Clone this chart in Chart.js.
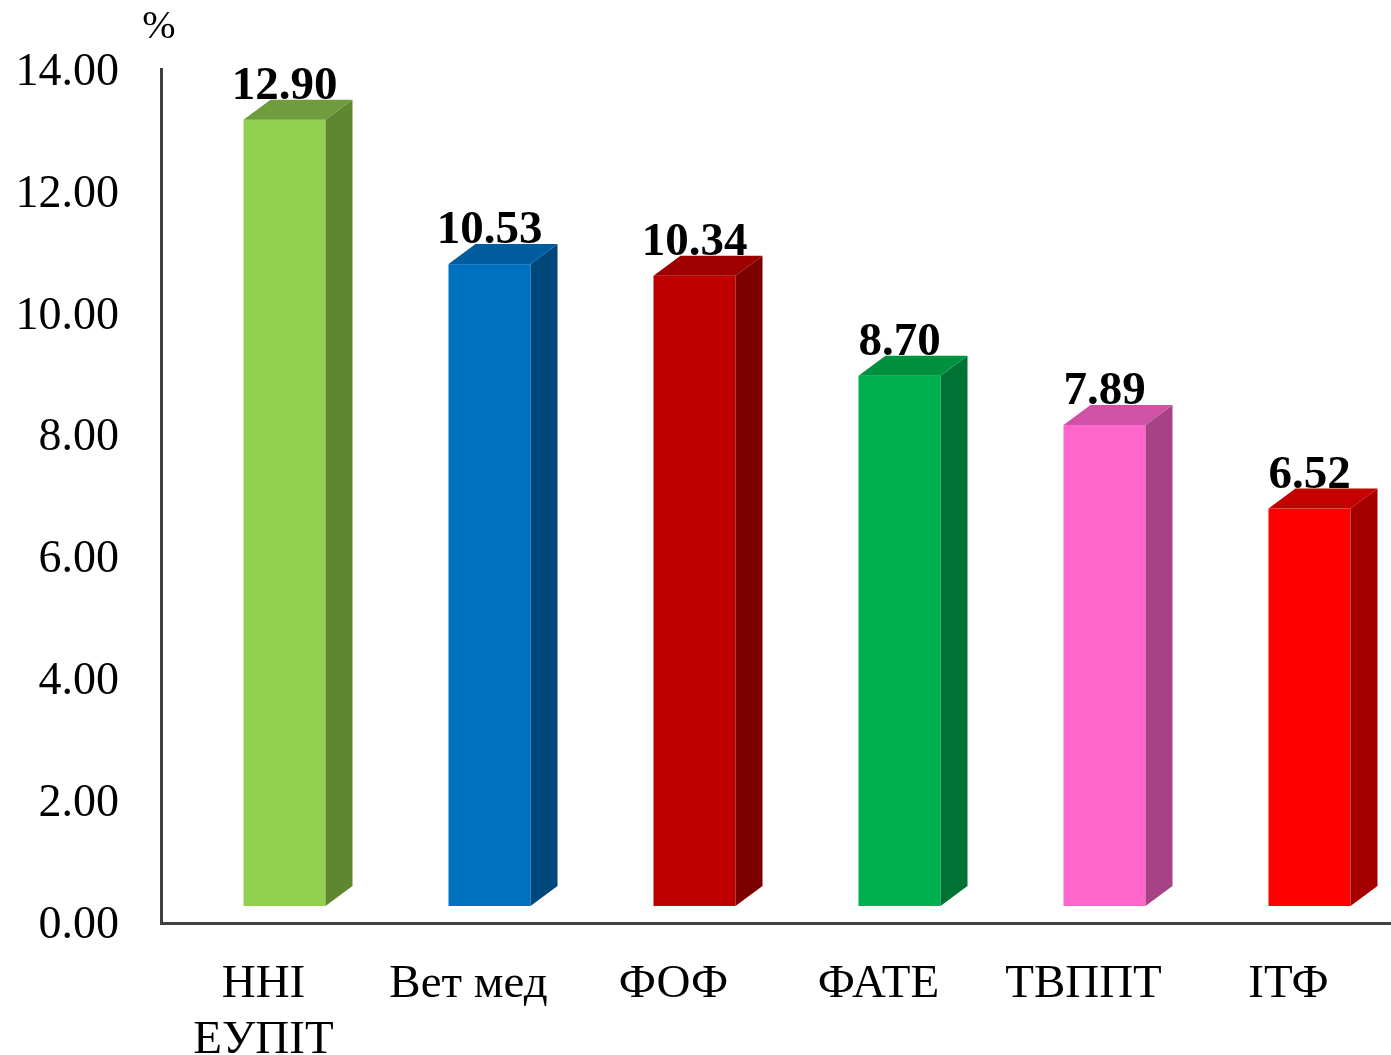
<!DOCTYPE html>
<html>
<head>
<meta charset="utf-8">
<script src="https://cdn.jsdelivr.net/npm/chart.js@4.4.1/dist/chart.umd.min.js"></script>
<style>
  html, body { margin: 0; padding: 0; background: #fff; }
  #wrap { width: 1391px; height: 1055px; position: relative; }
</style>
</head>
<body>
<div id="wrap"><canvas id="chart"></canvas></div>
<script>
const categories = [['ННІ', 'ЕУПІТ'], 'Вет мед', 'ФОФ', 'ФАТЕ', 'ТВППТ', 'ІТФ'];
const values = [12.90, 10.53, 10.34, 8.70, 7.89, 6.52];
const frontColors = ['#92D050', '#0070C0', '#C00000', '#00B050', '#FF66CC', '#FF0000'];
const sideColors = ['#5F8732', '#00477C', '#7C0000', '#007334', '#A64285', '#A50000'];
const topColors = ['#6F9C3C', '#005C9E', '#9E0000', '#00913F', '#CF52A6', '#C40000'];

const FONT = '"Liberation Serif", "Times New Roman", serif';
// 3D look: front face pushed right/up, depth of the side and top faces
const SHIFT_X = 21, SHIFT_Y = -17, DEPTH_X = 27, DEPTH_Y = -20;

const bars3d = {
    id: 'bars3d',
    afterDatasetsDraw(chart) {
        const ctx = chart.ctx;
        const meta = chart.getDatasetMeta(0);
        meta.data.forEach((bar, i) => {
            const p = bar.getProps(['x', 'y', 'base', 'width'], true);
            const left = p.x - p.width / 2 + SHIFT_X;
            const right = left + p.width;
            const top = p.y + SHIFT_Y;
            const bottom = p.base + SHIFT_Y;
            ctx.save();
            ctx.fillStyle = frontColors[i];
            ctx.fillRect(left, top, p.width, bottom - top);
            // side
            ctx.fillStyle = sideColors[i];
            ctx.beginPath();
            ctx.moveTo(right, top);
            ctx.lineTo(right + DEPTH_X, top + DEPTH_Y);
            ctx.lineTo(right + DEPTH_X, bottom + DEPTH_Y);
            ctx.lineTo(right, bottom);
            ctx.closePath();
            ctx.fill();
            // top
            ctx.fillStyle = topColors[i];
            ctx.beginPath();
            ctx.moveTo(left, top);
            ctx.lineTo(left + DEPTH_X, top + DEPTH_Y);
            ctx.lineTo(right + DEPTH_X, top + DEPTH_Y);
            ctx.lineTo(right, top);
            ctx.closePath();
            ctx.fill();
            // value label
            ctx.fillStyle = '#000';
            ctx.font = 'bold 47px ' + FONT;
            ctx.textAlign = 'center';
            ctx.textBaseline = 'alphabetic';
            ctx.fillText(values[i].toFixed(2), left + p.width / 2, top + DEPTH_Y - 1);
            ctx.restore();
        });
        // unit label
        ctx.save();
        ctx.fillStyle = '#000';
        ctx.font = '40px ' + FONT;
        ctx.textAlign = 'center';
        ctx.textBaseline = 'middle';
        ctx.fillText('%', 159, 27);
        ctx.restore();
    }
};

new Chart(document.getElementById('chart'), {
    type: 'bar',
    data: {
        labels: categories,
        datasets: [{
            data: values,
            backgroundColor: 'rgba(0,0,0,0)',
            borderWidth: 0,
            barPercentage: 0.4,
            categoryPercentage: 1
        }]
    },
    options: {
        responsive: true,
        maintainAspectRatio: false,
        animation: false,
        layout: { padding: { top: 63, right: 0, left: 0, bottom: 0 } },
        plugins: {
            legend: { display: false },
            tooltip: { enabled: false }
        },
        scales: {
            x: {
                grid: { display: false, drawTicks: false },
                border: { display: true, color: '#404040', width: 3 },
                ticks: {
                    color: '#000',
                    font: { family: FONT, size: 47, lineHeight: 1.2 },
                    padding: 33,
                    maxRotation: 0,
                    autoSkip: false
                },
                afterFit(scale) { scale.height = 132; }
            },
            y: {
                min: 0,
                max: 14,
                grid: { display: false, drawTicks: false },
                border: { display: true, color: '#404040', width: 3 },
                ticks: {
                    stepSize: 2,
                    color: '#000',
                    font: { family: FONT, size: 46 },
                    padding: 42,
                    labelOffset: 3,
                    callback: v => v.toFixed(2)
                },
                afterFit(scale) { scale.width = 161; }
            }
        }
    },
    plugins: [bars3d]
});
</script>
</body>
</html>
